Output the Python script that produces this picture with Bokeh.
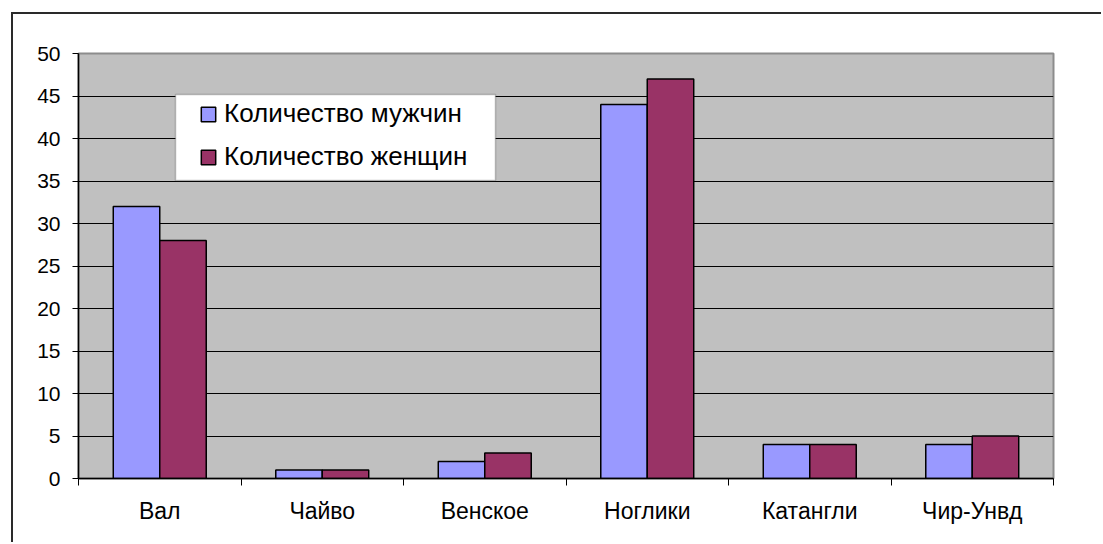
import numpy as np
from bokeh.plotting import figure
from bokeh.models import (ColumnDataSource, FixedTicker, BoxAnnotation, Legend, LegendItem, Range1d)
from bokeh.embed import file_html
from bokeh.resources import INLINE

categories = ["Вал", "Чайво", "Венское", "Ноглики", "Катангли", "Чир-Унвд"]
men = [32, 1, 2, 44, 4, 4]
women = [28, 1, 3, 47, 4, 5]
series_names = ["Количество мужчин", "Количество женщин"]
y_ticks = [0, 5, 10, 15, 20, 25, 30, 35, 40, 45, 50]

FONT = "Liberation Sans"
BAR_W = 0.286

n = len(categories)
centers = np.arange(n) + 0.5
src = ColumnDataSource(dict(
    xm=centers - BAR_W / 2,
    xw=centers + BAR_W / 2,
    men=men,
    women=women,
))

p = figure(width=1090, height=530, output_backend="svg", toolbar_location=None,
           x_range=Range1d(0, n), y_range=Range1d(0, 50),
           min_border_left=65, min_border_right=50, min_border_top=39, min_border_bottom=66,
           background_fill_color="#C0C0C0", border_fill_color="white")
p.styles = {"margin-left": "11px", "margin-top": "12px",
            "border-left": "2px solid #2a2a2a", "border-top": "2px solid #2a2a2a"}

p.outline_line_color = "#8C8C8C"
p.outline_line_width = 2

r1 = p.vbar(x="xm", top="men", width=BAR_W, source=src, fill_color="#9999FF",
            line_color="black", line_width=1.5)
r2 = p.vbar(x="xw", top="women", width=BAR_W, source=src, fill_color="#993366",
            line_color="black", line_width=1.5)

# grid
p.xgrid.visible = False
p.ygrid.grid_line_color = "black"
p.ygrid.grid_line_width = 1
p.ygrid.ticker = FixedTicker(ticks=y_ticks)

# y axis
p.yaxis.ticker = FixedTicker(ticks=y_ticks)
p.yaxis.major_tick_out = 6
p.yaxis.major_tick_in = 0
p.yaxis.minor_tick_line_color = None
p.yaxis.axis_line_color = "black"
p.yaxis.axis_line_width = 1.5
p.yaxis.major_tick_line_color = "black"
p.yaxis.major_label_text_font = FONT
p.yaxis.major_label_text_font_size = "21px"
p.yaxis.major_label_text_color = "black"
p.yaxis.major_label_standoff = 12

# x axis: labels at centers, ticks at category boundaries
p.xaxis.ticker = FixedTicker(ticks=list(centers), minor_ticks=list(range(n + 1)))
p.xaxis.major_label_overrides = {float(c): lab for c, lab in zip(centers, categories)}
p.xaxis.major_tick_out = 0
p.xaxis.major_tick_in = 0
p.xaxis.minor_tick_out = 7
p.xaxis.minor_tick_in = 0
p.xaxis.minor_tick_line_color = "black"
p.xaxis.axis_line_color = "black"
p.xaxis.axis_line_width = 1.5
p.xaxis.major_label_text_font = FONT
p.xaxis.major_label_text_font_size = "23px"
p.xaxis.major_label_text_color = "black"
p.xaxis.major_label_standoff = 12

# legend box background
lbox = BoxAnnotation(left=160, right=480, top=78, bottom=164,
                     left_units="canvas", right_units="canvas", top_units="canvas", bottom_units="canvas",
                     fill_color="white", fill_alpha=1, line_color="#404040", line_width=1.5)
p.add_layout(lbox)

legend = Legend(items=[LegendItem(label=series_names[0], renderers=[r1]),
                       LegendItem(label=series_names[1], renderers=[r2])],
                location=(121, 306), padding=0, margin=0, spacing=12,
                glyph_width=18, glyph_height=18, label_standoff=7,
                label_text_font=FONT, label_text_font_size="26px", label_text_color="black",
                background_fill_alpha=0, border_line_color=None)
p.add_layout(legend)

open("out.html", "w").write(file_html(p, INLINE))
